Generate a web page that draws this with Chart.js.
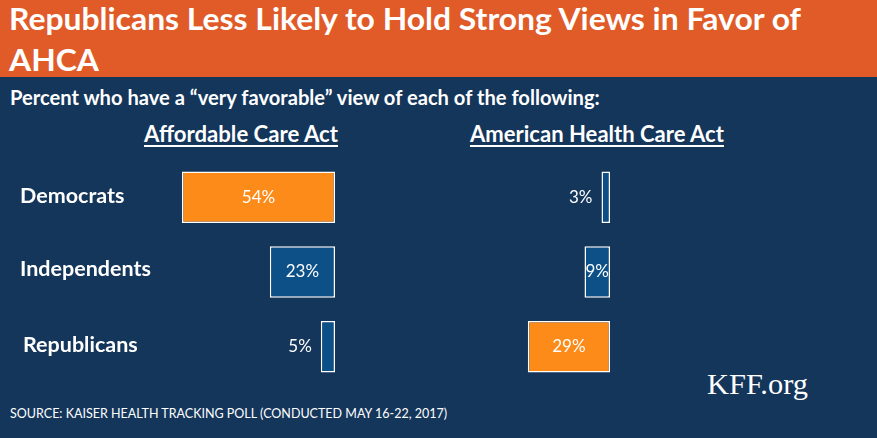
<!DOCTYPE html>
<html>
<head>
<meta charset="utf-8">
<script src="https://cdn.jsdelivr.net/npm/chart.js@4"></script>
<style>
  html,body{margin:0;padding:0;}
  body{width:877px;height:438px;background:#14365b;position:relative;overflow:hidden;font-family:Lato,"Open Sans",sans-serif;color:#fff;}
  .banner{position:absolute;left:0;top:0;width:877px;height:77px;background:#e05b27;}
  .t{position:absolute;white-space:nowrap;color:#fff;}
  .title{font-weight:bold;font-size:30px;line-height:30px;transform-origin:0 0;}
  #title1{left:9px;top:3px;}
  #title2{left:9px;top:44px;}
  #sub{left:10px;top:85px;font-weight:bold;font-size:16px;}
  .hdr{top:120px;font-weight:bold;font-size:18px;text-decoration:underline;text-underline-offset:3px;}
  #h1{left:144px;}
  #h2{left:470px;}
  #kff{left:707px;top:367px;font-family:"Liberation Serif","DejaVu Serif",serif;font-size:27px;}
  #src{left:10px;top:406px;font-size:12.5px;}
  canvas{position:absolute;}
  #c1{left:0;top:160px;}
  #c2{left:440px;top:160px;}
</style>
</head>
<body>
<div class="banner"></div>
<div class="t title" id="title1" data-sx="792">Republicans Less Likely to Hold Strong Views in Favor of</div>
<div class="t title" id="title2">AHCA</div>
<div class="t" id="sub" data-w="590">Percent who have a “very favorable” view of each of the following:</div>
<div class="t hdr" id="h1" data-w="194">Affordable Care Act</div>
<div class="t hdr" id="h2" data-w="254">American Health Care Act</div>
<div class="t" id="kff" data-w="101">KFF.org</div>
<div class="t" id="src" data-w="437">SOURCE: KAISER HEALTH TRACKING POLL (CONDUCTED MAY 16-22,  2017)</div>
<canvas id="c1" width="335" height="224"></canvas>
<canvas id="c2" width="170" height="224"></canvas>
<script>
const categories = ["Democrats", "Independents", "Republicans"];
const acaValues = [54, 23, 5];
const ahcaValues = [3, 9, 29];
const acaColors = ["#fd8b1a", "#0c5087", "#0c5087"];
const ahcaColors = ["#0c5087", "#0c5087", "#fd8b1a"];
const axisMax = 60;

// fit text widths
function fit(){
  document.querySelectorAll('[data-w]').forEach(el=>{
    const target = +el.dataset.w;
    let fs = parseFloat(getComputedStyle(el).fontSize);
    for(let i=0;i<4;i++){
      const w = el.getBoundingClientRect().width;
      fs = fs*target/w;
      el.style.fontSize = fs+'px';
    }
  });
  const t1 = document.getElementById('title1');
  const sx = (+t1.dataset.sx) / t1.getBoundingClientRect().width;
  t1.style.transform = 'scaleX(' + sx + ')';
  document.getElementById('title2').style.transform = 'scaleX(' + sx + ')';
}
fit();

const valueLabels = {
  id:'valueLabels',
  afterDatasetsDraw(chart){
    const ctx = chart.ctx;
    const meta = chart.getDatasetMeta(0);
    const data = chart.data.datasets[0].data;
    ctx.save();
    ctx.font = '17px Lato, "Open Sans", sans-serif';
    ctx.fillStyle = '#ffffff';
    ctx.textBaseline = 'middle';
    meta.data.forEach((bar,i)=>{
      const txt = data[i] + '%';
      const left = Math.min(bar.x, bar.base), right = Math.max(bar.x, bar.base);
      const w = right-left;
      const tw = ctx.measureText(txt).width;
      if (w >= tw - 3) {
        ctx.textAlign = 'center';
        ctx.fillText(txt, (left+right)/2, bar.y);
      } else {
        ctx.textAlign = 'right';
        ctx.fillText(txt, left - 9, bar.y);
      }
    });
    ctx.restore();
  }
};

const catLabels = {
  id:'catLabels',
  afterDraw(chart){
    const ctx = chart.ctx;
    const ys = chart.scales.y;
    ctx.save();
    ctx.font = 'bold 21.5px Lato, "Open Sans", sans-serif';
    ctx.fillStyle = '#ffffff';
    ctx.textBaseline = 'middle';
    ctx.textAlign = 'left';
    const xoff = [20, 20, 23];
    const yoff = [-1, -3, -2];
    categories.forEach((c,i)=>{
      ctx.fillText(c, xoff[i], ys.getPixelForValue(i) + yoff[i]);
    });
    ctx.restore();
  }
};

function makeChart(id, values, colors, padLeft, extraPlugins){
  return new Chart(document.getElementById(id), {
    type:'bar',
    data:{labels:categories, datasets:[{data:values, backgroundColor:colors, borderColor:'#ffffff', borderWidth:1.5, borderSkipped:false, barPercentage:0.69, categoryPercentage:1}]},
    options:{
      indexAxis:'y',
      responsive:false,
      animation:false,
      events:[],
      layout:{padding:{left:padLeft,right:0,top:0,bottom:0}},
      plugins:{legend:{display:false},tooltip:{enabled:false},title:{display:false}},
      scales:{
        x:{display:false, reverse:true, min:0, max:axisMax},
        y:{display:false}
      }
    },
    plugins:[valueLabels].concat(extraPlugins)
  });
}
makeChart('c1', acaValues, acaColors, 165, [catLabels]);
makeChart('c2', ahcaValues, ahcaColors, 0, []);
</script>
</body>
</html>
